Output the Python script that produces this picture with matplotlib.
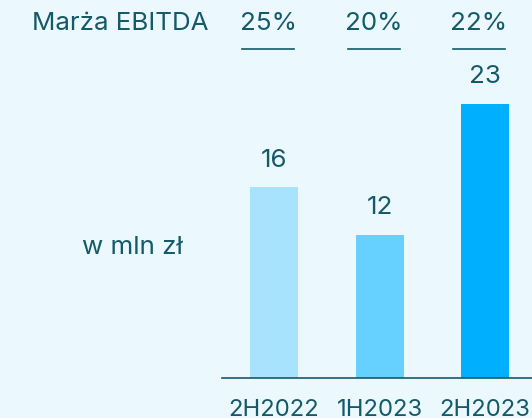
import matplotlib
matplotlib.use("Agg")
import matplotlib.pyplot as plt

categories = ["2H2022", "1H2023", "2H2023"]
ebitda = [16, 12, 23]
margins = ["25%", "20%", "22%"]
bar_colors = ["#a8e3fd", "#66d1ff", "#00b0ff"]

BG = "#ebf8fe"
TXT = "#155a68"
FONT = "Inter"
FS = 18.7
TICK_FS = 17.2

plt.rcParams['font.family'] = [FONT, 'DejaVu Sans']

W, H = 532, 418
fig = plt.figure(figsize=(W / 100, H / 100), dpi=100, facecolor=BG)
ax = fig.add_axes([222 / W, (H - 378) / H, (W - 222) / W, 378 / H])
ax.set_facecolor(BG)

x = list(range(len(categories)))
ax.bar(x, ebitda, width=0.455, color=bar_colors, zorder=2)
ax.set_xlim(-0.493, 2.445)
ax.set_ylim(0, 378 / 11.92)

for s in ["top", "right", "left"]:
    ax.spines[s].set_visible(False)
ax.spines["bottom"].set_color(TXT)
ax.spines["bottom"].set_linewidth(1.2)
ax.set_yticks([])
ax.set_xticks(x)
ax.set_xticklabels(categories, fontsize=TICK_FS, color=TXT)
ax.tick_params(axis="x", length=0, pad=15)

for xi, v in zip(x, ebitda):
    ax.annotate(str(v), (xi, v), xytext=(0, 27), textcoords="offset pixels",
                ha="center", va="center", fontsize=FS, color=TXT)

for xi, m in zip(x, margins):
    px = ax.transData.transform((xi, 0))[0] - 6
    fig.text(px / W, 1 - 23 / H, m, ha="center", va="center", fontsize=FS, color=TXT)
    fig.add_artist(plt.Line2D([(px - 26) / W, (px + 26) / W], [1 - 49 / H, 1 - 49 / H],
                              color=TXT, lw=1.2))

fig.text(120 / W, 1 - 24 / H, "Marża EBITDA", ha="center", va="center", fontsize=FS, color=TXT)
fig.text(132 / W, 1 - 247 / H, "w mln zł", ha="center", va="center", fontsize=FS, color=TXT)

fig.savefig("out.png", dpi=100, facecolor=BG)
